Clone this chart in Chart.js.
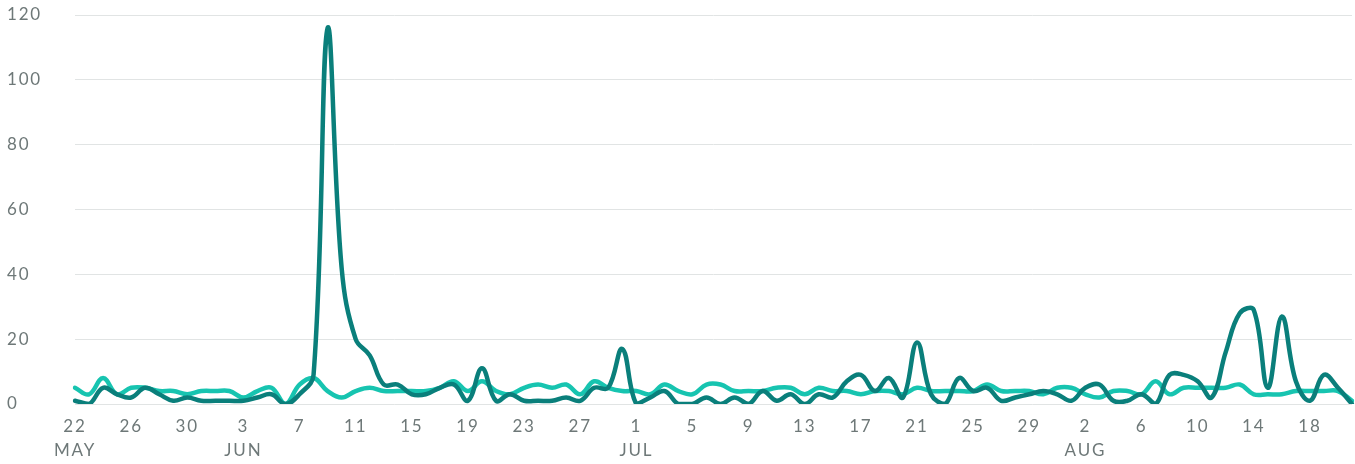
<!DOCTYPE html>
<html>
<head>
<meta charset="utf-8">
<script src="https://cdn.jsdelivr.net/npm/chart.js@4"></script>
<style>
  html, body { margin: 0; padding: 0; background: #ffffff; overflow: hidden; }
  #wrap { width: 1355px; height: 464px; position: relative; overflow: hidden; }
  #c { display: block; }
</style>
</head>
<body>
<div id="wrap"><canvas id="c"></canvas></div>
<script>
const categories = [
  'May 22','May 23','May 24','May 25','May 26','May 27','May 28','May 29','May 30','May 31',
  'Jun 1','Jun 2','Jun 3','Jun 4','Jun 5','Jun 6','Jun 7','Jun 8','Jun 9','Jun 10',
  'Jun 11','Jun 12','Jun 13','Jun 14','Jun 15','Jun 16','Jun 17','Jun 18','Jun 19','Jun 20',
  'Jun 21','Jun 22','Jun 23','Jun 24','Jun 25','Jun 26','Jun 27','Jun 28','Jun 29','Jun 30',
  'Jul 1','Jul 2','Jul 3','Jul 4','Jul 5','Jul 6','Jul 7','Jul 8','Jul 9','Jul 10',
  'Jul 11','Jul 12','Jul 13','Jul 14','Jul 15','Jul 16','Jul 17','Jul 18','Jul 19','Jul 20',
  'Jul 21','Jul 22','Jul 23','Jul 24','Jul 25','Jul 26','Jul 27','Jul 28','Jul 29','Jul 30',
  'Jul 31','Aug 1','Aug 2','Aug 3','Aug 4','Aug 5','Aug 6','Aug 7','Aug 8','Aug 9',
  'Aug 10','Aug 11','Aug 12','Aug 13','Aug 14','Aug 15','Aug 16','Aug 17','Aug 18','Aug 19',
  'Aug 20','Aug 21'
];

const darkSeries = [
  1, 0, 5, 3, 2, 5, 3, 1, 2, 1,
  1, 1, 1, 2, 3, 0, 3, 9, 116, 42,
  20, 15, 6, 6, 3, 3, 5, 6, 1, 11,
  1, 3, 1, 1, 1, 2, 1, 5, 5, 17,
  0, 2, 4, 0, 0, 2, 0, 2, 0, 4,
  1, 3, 0, 3, 2, 7, 9, 4, 8, 2,
  19, 3, 0, 8, 4, 5, 1, 2, 3, 4,
  3, 1, 5, 6, 1, 1, 3, 0, 9, 9,
  7, 2, 16, 28, 29, 5, 27, 7, 1, 9,
  5, 0
];

const lightSeries = [
  5, 3, 8, 3, 5, 5, 4, 4, 3, 4,
  4, 4, 2, 4, 5, 0, 6, 8, 4, 2,
  4, 5, 4, 4, 4, 4, 5, 7, 4, 7,
  4, 3, 5, 6, 5, 6, 3, 7, 5, 4,
  4, 3, 6, 4, 3, 6, 6, 4, 4, 4,
  5, 5, 3, 5, 4, 4, 3, 4, 4, 3,
  5, 4, 4, 4, 4, 6, 4, 4, 4, 3,
  5, 5, 3, 2, 4, 4, 3, 7, 3, 5,
  5, 5, 5, 6, 3, 3, 3, 4, 4, 4,
  4, 1
];

const tickDays = ['22','26','30','3','7','11','15','19','23','27','1','5','9','13','17','21','25','29','2','6','10','14','18'];
const tickMonths = ['MAY','','','JUN','','','','','','','JUL','','','','','','','','AUG','','','',''];
const yTicks = [0, 20, 40, 60, 80, 100, 120];

const labelFont = { family: 'Lato', size: 17, lineHeight: 24 / 17 };
const labelColor = '#6e7878';

const letterSpacingPlugin = {
  id: 'letterSpacing',
  beforeDraw(chart) { chart.ctx.letterSpacing = '1.8px'; },
  beforeLayout(chart) { chart.ctx.letterSpacing = '1.8px'; }
};

new Chart(document.getElementById('c'), {
  type: 'line',
  data: {
    labels: categories,
    datasets: [
      {
        data: darkSeries,
        borderColor: '#0a7f7b',
        borderWidth: 4.5,
        pointRadius: 0,
        tension: 0.4,
        fill: false,
        borderCapStyle: 'round',
        borderJoinStyle: 'round'
      },
      {
        data: lightSeries,
        borderColor: '#17c4b0',
        borderWidth: 4.5,
        pointRadius: 0,
        tension: 0.4,
        fill: false,
        borderCapStyle: 'round',
        borderJoinStyle: 'round'
      }
    ]
  },
  options: {
    responsive: true,
    maintainAspectRatio: false,
    animation: false,
    layout: { padding: { top: 15, right: 3, bottom: 0, left: 7 } },
    plugins: {
      legend: { display: false },
      tooltip: { enabled: false }
    },
    scales: {
      x: {
        offset: false,
        grid: { display: false, drawTicks: false },
        border: { display: false },
        afterFit: function (scale) {
          scale.height = 60;
          scale.paddingRight = 0;
          scale.paddingLeft = 0;
        },
        ticks: {
          autoSkip: false,
          maxRotation: 0,
          minRotation: 0,
          padding: 11,
          color: labelColor,
          font: labelFont,
          callback: function (value, index) {
            if (index % 4 !== 0) return '';
            const k = index / 4;
            if (k >= tickDays.length) return '';
            return tickMonths[k] ? [tickDays[k], tickMonths[k]] : tickDays[k];
          }
        }
      },
      y: {
        min: 0,
        max: 120,
        afterBuildTicks: function (scale) {
          scale.ticks = yTicks.map(v => ({ value: v }));
        },
        afterFit: function (scale) { scale.width = 68; },
        grid: { color: '#e1e4e4', lineWidth: 1, drawTicks: false },
        border: { display: false },
        ticks: {
          crossAlign: 'far',
          padding: 0,
          color: labelColor,
          font: labelFont
        }
      }
    }
  },
  plugins: [letterSpacingPlugin]
});
</script>
</body>
</html>
